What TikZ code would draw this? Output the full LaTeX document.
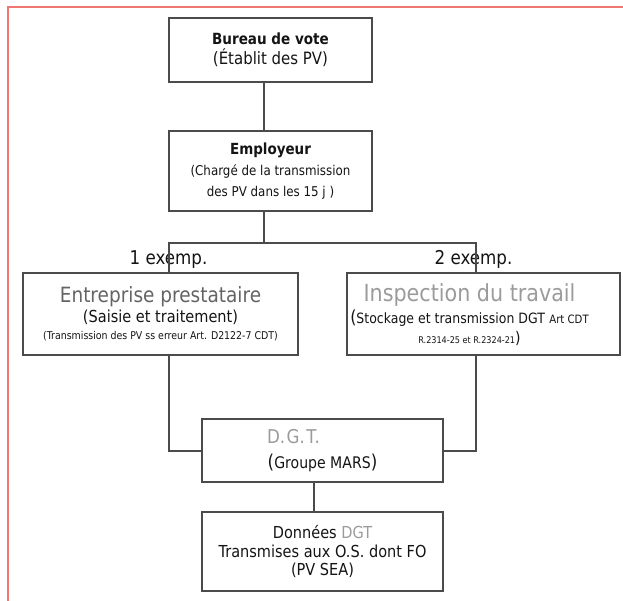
\documentclass[tikz,border=0pt]{standalone}
\usepackage{fontspec}
\setmainfont{DejaVu Sans}[FakeStretch=0.88]
\definecolor{redb}{RGB}{240,120,112}
\definecolor{linec}{RGB}{75,75,75}
\definecolor{txt}{RGB}{20,20,20}
\definecolor{grayA}{RGB}{100,100,100}
\definecolor{grayB}{RGB}{155,155,155}
\newcommand\fs[2]{\fontsize{#1}{#2}\selectfont}
\tikzset{
  box/.style={draw=linec, line width=1.4pt, align=center, text=txt, inner sep=0pt},
  boxtext/.style={align=center, text=txt, inner sep=0pt},
  conn/.style={draw=linec, line width=1.4pt},
  lab/.style={text=txt, inner sep=0pt, font=\fs{19}{20}},
  redframe/.style={draw=redb, line width=2pt}
}
\begin{document}
\begin{tikzpicture}[x=1pt,y=-1pt]
\useasboundingbox (0,0) rectangle (623,601);
\draw[redframe] (7.5,601) -- (7.5,7.5) -- (623,7.5);

\node[box, minimum width=203pt, minimum height=64pt, font=\fs{15.4}{20.5}] (bureau) at (270.5,50)
  {{\bfseries Bureau de vote}\\{\fs{17}{20.5}(Établit des PV)}};
\node[box, minimum width=203pt, minimum height=80pt, font=\fs{13.5}{21}] (employeur) at (270.5,171)
  {{\fs{15.3}{21}\bfseries Employeur}\\(Chargé de la transmission\\des PV dans les 15 j )};
\node[box, minimum width=275pt, minimum height=82pt, font=\fs{16.5}{20}] (entreprise) at (160.5,314)
  {{\fs{21}{20}\color{grayA}Entreprise prestataire}\\(Saisie et traitement)\\[-3pt]{\fs{10.7}{12}(Transmission des PV ss erreur Art. D2122-7 CDT)}};
\node[box, minimum width=273pt, minimum height=82pt] (inspection) at (483.5,314) {};
\node[boxtext, font=\fs{16}{22}] (insptext) at (469.5,314.5)
  {{\fs{23.5}{22}\color{grayB}Inspection du travail}\\{\fs{18}{22}(}{\fs{14.2}{22}Stockage et transmission DGT} {\fs{11.5}{22}Art CDT}\\[-2pt]{\fs{9.2}{20}R.2314-25 et R.2324-21}{\fs{16}{20})}};
\node[box, minimum width=241pt, minimum height=63pt, font=\fs{16}{25}] (dgt) at (322.5,450.5)
  {\makebox[111pt][l]{\fs{19}{25}\color{grayB}D.\kern1.5pt G.\kern1.5pt T.}\\{\fs{19}{25}(}Groupe MARS{\fs{19}{25})}};
\node[box, minimum width=241pt, minimum height=79pt, font=\fs{16.5}{18.5}] (donnees) at (322.5,551.5)
  {Données {\color{grayB}DGT}\\Transmises aux O.S. dont FO\\(PV SEA)};

\node[lab, anchor=base] (l1) at (168.5,265) {1 exemp.};
\node[lab, anchor=base] (l2) at (473.5,265) {2 exemp.};

\coordinate (tx) at (264,0);
\coordinate (jl) at (169,243);
\coordinate (jr) at (476,243);
\coordinate (jm) at (264,243);
\coordinate (bl) at (169,451);
\coordinate (br) at (476,451);
\coordinate (dx) at (314,0);

\draw[conn] (bureau.south -| tx) -- (employeur.north -| tx);
\draw[conn] (employeur.south -| jm) -- (jm);
\draw[conn] (entreprise.north -| jl) -- (jl) -- (jr) -- (inspection.north -| jr);
\draw[conn] (entreprise.south -| bl) -- (bl) -- (dgt.west |- bl);
\draw[conn] (inspection.south -| br) -- (br) -- (dgt.east |- br);
\draw[conn] (dgt.south -| dx) -- (donnees.north -| dx);
\end{tikzpicture}
\end{document}
